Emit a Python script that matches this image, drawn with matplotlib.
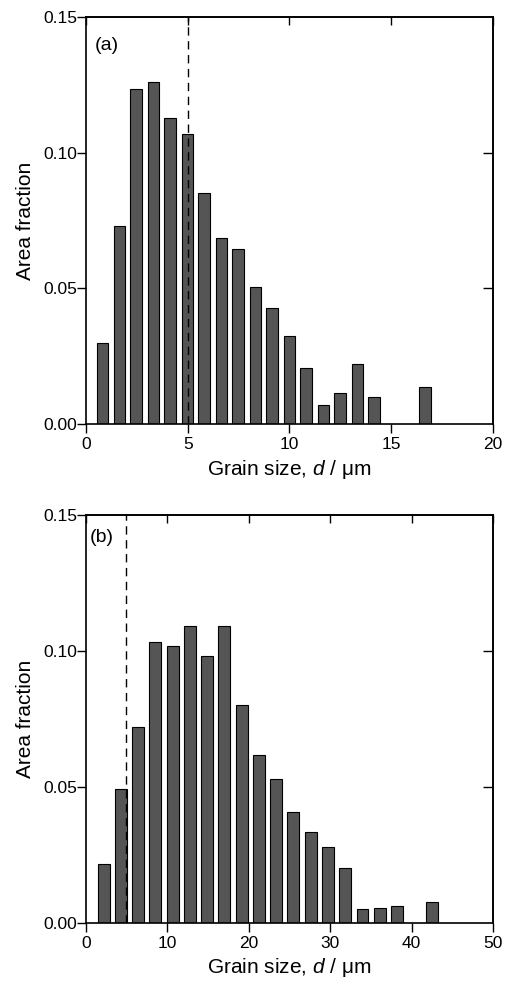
import matplotlib
matplotlib.use("Agg")
import matplotlib.pyplot as plt

plt.rcParams['font.family'] = ['Liberation Sans', 'DejaVu Sans']
plt.rcParams['mathtext.fontset'] = 'custom'
plt.rcParams['mathtext.it'] = 'Liberation Sans:italic'
plt.rcParams['mathtext.rm'] = 'Liberation Sans'

# (a) grain size distribution
d_a = [0.80, 1.64, 2.47, 3.31, 4.14, 4.98, 5.81, 6.65, 7.48, 8.32,
       9.15, 9.99, 10.82, 11.66, 12.49, 13.33, 14.16, 16.67]
frac_a = [0.030, 0.073, 0.1235, 0.1262, 0.1127, 0.1069, 0.085, 0.0684, 0.0646, 0.0506,
          0.0429, 0.0324, 0.0205, 0.0070, 0.0115, 0.0220, 0.0101, 0.0138]
dc_a = 5.0

# (b) grain size distribution
d_b = [2.17, 4.29, 6.41, 8.53, 10.65, 12.77, 14.89, 17.01, 19.13, 21.25,
       23.37, 25.49, 27.61, 29.73, 31.85, 33.97, 36.09, 38.21, 42.47]
frac_b = [0.0215, 0.0492, 0.0721, 0.1033, 0.1019, 0.1090, 0.0982, 0.1090, 0.0800, 0.0617,
          0.0529, 0.0409, 0.0335, 0.0279, 0.0200, 0.0049, 0.0055, 0.0062, 0.0076]
dc_b = 4.9

fig = plt.figure(figsize=(5.13, 9.86), dpi=100)
ax1 = fig.add_axes([0.1676, 0.570, 0.7934, 0.4128])
ax2 = fig.add_axes([0.1676, 0.0642, 0.7934, 0.4135])

panels = [
    (ax1, d_a, frac_a, dc_a, 0.565, 20, [0, 5, 10, 15, 20], '(a)', 0.022, 0.931),
    (ax2, d_b, frac_b, dc_b, 1.47, 50, [0, 10, 20, 30, 40, 50], '(b)', 0.010, 0.945),
]

for ax, d, frac, dc, w, xmax, xt, tag, tx, ty in panels:
    ax.bar(d, frac, width=w, color='#555555', edgecolor='black', linewidth=0.8, zorder=2)
    ax.axvline(dc, color='black', linestyle=(0, (6, 4)), linewidth=1.0, zorder=3)
    ax.set_xlim(0, xmax)
    ax.set_ylim(0, 0.15)
    ax.set_xticks(xt)
    ax.set_yticks([0, 0.05, 0.10, 0.15])
    ax.set_yticklabels(['0.00', '0.05', '0.10', '0.15'])
    ax.tick_params(direction='out', length=6.5, width=1.0, labelsize=12.5)
    ax.tick_params(axis='x', pad=3)
    ax.tick_params(axis='y', pad=0)
    # inward ticks on the top and right edges
    axt = ax.secondary_xaxis('top')
    axt.set_xticks(xt)
    axt.tick_params(direction='in', length=6, width=1.0, labeltop=False)
    axr = ax.secondary_yaxis('right')
    axr.set_yticks([0.05, 0.10])
    axr.tick_params(direction='in', length=7, width=1.0, labelright=False)
    for s in list(ax.spines.values()) + [axt.spines['top'], axr.spines['right']]:
        s.set_linewidth(1.2)
    ax.set_xlabel('Grain size, $\\it{d}$ / \u03bcm', fontsize=15, labelpad=4)
    ax.set_ylabel('Area fraction', fontsize=15, labelpad=6)
    ax.text(tx, ty, tag, transform=ax.transAxes, fontsize=14, va='center', ha='left')

fig.savefig('out.png', dpi=100)
